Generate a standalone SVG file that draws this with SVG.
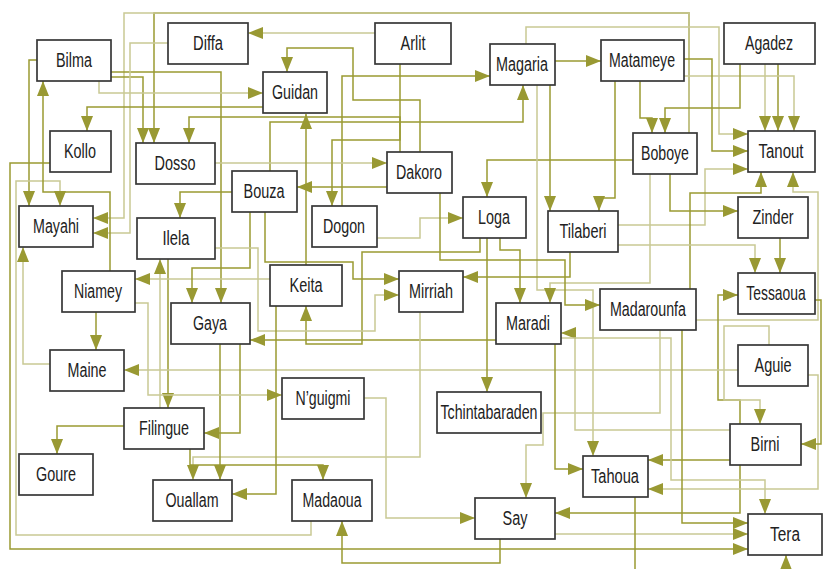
<svg xmlns="http://www.w3.org/2000/svg" width="823" height="569" viewBox="0 0 823 569">
<style>
.bg{fill:#ffffff}
.n rect{fill:#ffffff;stroke:#383838;stroke-width:1.7}
.n text{font-family:"Liberation Sans",Arial,sans-serif;font-size:20px;fill:#222;text-anchor:middle}
.e path{fill:none;stroke-width:1.5;marker-end:url(#ah)}
.e .d{stroke:#9a9a32}
.e .l{stroke:#c9c994}
</style>
<defs>
<marker id="ah" markerUnits="userSpaceOnUse" markerWidth="16" markerHeight="12" refX="15" refY="6" orient="auto"><path d="M0,0 L15,6 L0,12 z" fill="#999933"/></marker>
</defs>
<rect class="bg" x="0" y="0" width="823" height="569"/>
<g id="connectors" class="e">
<path class="l" d="M375,33 H248"/>
<path class="d" d="M689,133 V13 H154 V143"/>
<path class="l" d="M689,133 V13 H124 V218 H93"/>
<path class="d" d="M111,77 H143 V143"/>
<path class="d" d="M111,72 H221 V303"/>
<path class="l" d="M99,81 V93 H263"/>
<path class="l" d="M168,43 H130 V233 H93"/>
<path class="d" d="M420,152 V100 H353 V48 H287 V72"/>
<path class="d" d="M342,206 V76 H490"/>
<path class="d" d="M555,61 H601"/>
<path class="d" d="M270,171 V122 H523 V85"/>
<path class="l" d="M765,64 V131"/>
<path class="d" d="M778,64 V131"/>
<path class="l" d="M684,76 H794 V131"/>
<path class="l" d="M526,44 V27 H719 V134 H748"/>
<path class="d" d="M684,59 H712 V151 H748"/>
<path class="l" d="M618,225 H705 V169 H748"/>
<path class="d" d="M690,289 V193 H761 V172"/>
<path class="l" d="M696,320 H818 V192 H793 V172"/>
<path class="d" d="M640,81 V118 H652 V133"/>
<path class="d" d="M740,64 V108 H665 V133"/>
<path class="d" d="M263,107 H87 V131"/>
<path class="d" d="M400,152 V117 H189 V143"/>
<path class="d" d="M37,60 H29 V206"/>
<path class="l" d="M311,521 V535 H16 V181 H60 V206"/>
<path class="d" d="M110,271 V192 H43 V81"/>
<path class="d" d="M50,163 H10 V549 H748"/>
<path class="l" d="M215,163 H387"/>
<path class="d" d="M387,187 H297"/>
<path class="d" d="M306,265 V114"/>
<path class="d" d="M480,238 V252 H362 V344 H306 V306"/>
<path class="d" d="M400,64 V140 H332 V206"/>
<path class="d" d="M633,160 H487 V197"/>
<path class="l" d="M377,238 H420 V218 H463"/>
<path class="d" d="M550,85 V211"/>
<path class="l" d="M537,85 V290 H593 V456"/>
<path class="d" d="M615,81 V198 H599 V211"/>
<path class="d" d="M670,174 V211 H738"/>
<path class="l" d="M618,245 H755 V273"/>
<path class="d" d="M780,238 V273"/>
<path class="d" d="M740,424 V400 H718 V295 H738"/>
<path class="d" d="M232,192 H180 V218"/>
<path class="l" d="M160,408 V259"/>
<path class="d" d="M168,259 V408"/>
<path class="l" d="M270,279 H135"/>
<path class="d" d="M250,212 V268 H192 V303"/>
<path class="d" d="M496,340 H250"/>
<path class="d" d="M96,312 V350"/>
<path class="l" d="M738,370 H124"/>
<path class="l" d="M50,364 H23 V247"/>
<path class="d" d="M265,212 V262 H353 V279 H399"/>
<path class="l" d="M215,248 H258 V331 H375 V295 H399"/>
<path class="d" d="M570,252 V277 H463"/>
<path class="d" d="M500,238 V250 H520 V303"/>
<path class="l" d="M650,174 V283 H550 V303"/>
<path class="d" d="M487,238 V392"/>
<path class="l" d="M730,430 H575 V333 H561"/>
<path class="d" d="M440,193 V260 H565 V305 H600"/>
<path class="d" d="M124,426 H57 V454"/>
<path class="d" d="M240,344 V433 H204"/>
<path class="l" d="M420,312 V457 H193 V480"/>
<path class="d" d="M220,344 V480"/>
<path class="d" d="M276,306 V494 H232"/>
<path class="d" d="M190,449 V465 H323 V480"/>
<path class="d" d="M500,539 V563 H342 V521"/>
<path class="l" d="M660,330 V413 H543 V445 H526 V498"/>
<path class="l" d="M364,398 H386 V518 H475"/>
<path class="d" d="M740,465 V513 H555"/>
<path class="d" d="M555,344 V469 H583"/>
<path class="d" d="M730,460 H648"/>
<path class="l" d="M808,375 H818 V489 H648"/>
<path class="d" d="M815,300 H821 V444 H801"/>
<path class="l" d="M561,338 H671 V480 H765 V514"/>
<path class="d" d="M682,330 V523 H748"/>
<path class="l" d="M555,534 H748"/>
<path class="d" d="M635,497 V580 H786 V555"/>
<path class="l" d="M135,303 H148 V395 H282"/>
<path class="l" d="M769,345 V326 H724 V400 H760 V424"/>
</g>
<g id="Bilma" class="n"><rect x="37" y="40" width="74" height="41"/><text x="74" y="67" textLength="36" lengthAdjust="spacingAndGlyphs">Bilma</text></g>
<g id="Diffa" class="n"><rect x="168" y="23" width="80" height="41"/><text x="208" y="50" textLength="30" lengthAdjust="spacingAndGlyphs">Diffa</text></g>
<g id="Arlit" class="n"><rect x="375" y="23" width="76" height="41"/><text x="413" y="50" textLength="25" lengthAdjust="spacingAndGlyphs">Arlit</text></g>
<g id="Magaria" class="n"><rect x="490" y="44" width="65" height="41"/><text x="522" y="71" textLength="52" lengthAdjust="spacingAndGlyphs">Magaria</text></g>
<g id="Matameye" class="n"><rect x="601" y="40" width="83" height="41"/><text x="642" y="67" textLength="66" lengthAdjust="spacingAndGlyphs">Matameye</text></g>
<g id="Agadez" class="n"><rect x="724" y="23" width="91" height="41"/><text x="769" y="50" textLength="48" lengthAdjust="spacingAndGlyphs">Agadez</text></g>
<g id="Guidan" class="n"><rect x="263" y="72" width="64" height="41"/><text x="295" y="99" textLength="46" lengthAdjust="spacingAndGlyphs">Guidan</text></g>
<g id="Kollo" class="n"><rect x="50" y="131" width="61" height="41"/><text x="80" y="158" textLength="32" lengthAdjust="spacingAndGlyphs">Kollo</text></g>
<g id="Dosso" class="n"><rect x="136" y="143" width="79" height="41"/><text x="175" y="170" textLength="41" lengthAdjust="spacingAndGlyphs">Dosso</text></g>
<g id="Dakoro" class="n"><rect x="387" y="152" width="65" height="41"/><text x="419" y="179" textLength="46" lengthAdjust="spacingAndGlyphs">Dakoro</text></g>
<g id="Boboye" class="n"><rect x="633" y="133" width="64" height="41"/><text x="665" y="160" textLength="48" lengthAdjust="spacingAndGlyphs">Boboye</text></g>
<g id="Tanout" class="n"><rect x="748" y="131" width="67" height="41"/><text x="781" y="158" textLength="45" lengthAdjust="spacingAndGlyphs">Tanout</text></g>
<g id="Bouza" class="n"><rect x="232" y="171" width="65" height="41"/><text x="264" y="198" textLength="41" lengthAdjust="spacingAndGlyphs">Bouza</text></g>
<g id="Mayahi" class="n"><rect x="19" y="206" width="74" height="41"/><text x="56" y="233" textLength="46" lengthAdjust="spacingAndGlyphs">Mayahi</text></g>
<g id="Dogon" class="n"><rect x="312" y="206" width="65" height="41"/><text x="344" y="233" textLength="42" lengthAdjust="spacingAndGlyphs">Dogon</text></g>
<g id="Loga" class="n"><rect x="463" y="197" width="63" height="41"/><text x="494" y="224" textLength="32" lengthAdjust="spacingAndGlyphs">Loga</text></g>
<g id="Tilaberi" class="n"><rect x="548" y="211" width="70" height="41"/><text x="583" y="238" textLength="47" lengthAdjust="spacingAndGlyphs">Tilaberi</text></g>
<g id="Zinder" class="n"><rect x="738" y="197" width="70" height="41"/><text x="773" y="224" textLength="41" lengthAdjust="spacingAndGlyphs">Zinder</text></g>
<g id="Ilela" class="n"><rect x="137" y="218" width="78" height="41"/><text x="176" y="245" textLength="27" lengthAdjust="spacingAndGlyphs">Ilela</text></g>
<g id="Niamey" class="n"><rect x="62" y="271" width="73" height="41"/><text x="98" y="298" textLength="48" lengthAdjust="spacingAndGlyphs">Niamey</text></g>
<g id="Keita" class="n"><rect x="270" y="265" width="72" height="41"/><text x="306" y="292" textLength="33" lengthAdjust="spacingAndGlyphs">Keita</text></g>
<g id="Mirriah" class="n"><rect x="399" y="271" width="64" height="41"/><text x="431" y="298" textLength="44" lengthAdjust="spacingAndGlyphs">Mirriah</text></g>
<g id="Tessaoua" class="n"><rect x="738" y="273" width="77" height="41"/><text transform="translate(776,300) scale(0.695,1)" x="0" y="0">Tessaoua</text></g>
<g id="Madarounfa" class="n"><rect x="600" y="289" width="96" height="41"/><text x="648" y="316" textLength="76" lengthAdjust="spacingAndGlyphs">Madarounfa</text></g>
<g id="Gaya" class="n"><rect x="171" y="303" width="79" height="41"/><text x="210" y="330" textLength="34" lengthAdjust="spacingAndGlyphs">Gaya</text></g>
<g id="Maradi" class="n"><rect x="496" y="303" width="65" height="41"/><text x="528" y="330" textLength="44" lengthAdjust="spacingAndGlyphs">Maradi</text></g>
<g id="Maine" class="n"><rect x="50" y="350" width="74" height="41"/><text x="87" y="377" textLength="39" lengthAdjust="spacingAndGlyphs">Maine</text></g>
<g id="Aguie" class="n"><rect x="738" y="345" width="70" height="41"/><text x="773" y="372" textLength="37" lengthAdjust="spacingAndGlyphs">Aguie</text></g>
<g id="Nguigmi" class="n"><rect x="282" y="378" width="82" height="41"/><text x="323" y="405" textLength="55" lengthAdjust="spacingAndGlyphs">N’guigmi</text></g>
<g id="Tchintabaraden" class="n"><rect x="437" y="392" width="104" height="41"/><text x="489" y="419" textLength="97" lengthAdjust="spacingAndGlyphs">Tchintabaraden</text></g>
<g id="Filingue" class="n"><rect x="124" y="408" width="80" height="41"/><text x="164" y="435" textLength="50" lengthAdjust="spacingAndGlyphs">Filingue</text></g>
<g id="Birni" class="n"><rect x="730" y="424" width="71" height="41"/><text x="765" y="451" textLength="29" lengthAdjust="spacingAndGlyphs">Birni</text></g>
<g id="Goure" class="n"><rect x="19" y="454" width="74" height="41"/><text x="56" y="481" textLength="40" lengthAdjust="spacingAndGlyphs">Goure</text></g>
<g id="Tahoua" class="n"><rect x="583" y="456" width="65" height="41"/><text x="615" y="483" textLength="48" lengthAdjust="spacingAndGlyphs">Tahoua</text></g>
<g id="Ouallam" class="n"><rect x="153" y="480" width="79" height="41"/><text x="192" y="507" textLength="53" lengthAdjust="spacingAndGlyphs">Ouallam</text></g>
<g id="Madaoua" class="n"><rect x="292" y="480" width="80" height="41"/><text x="332" y="507" textLength="59" lengthAdjust="spacingAndGlyphs">Madaoua</text></g>
<g id="Say" class="n"><rect x="475" y="498" width="80" height="41"/><text x="515" y="525" textLength="25" lengthAdjust="spacingAndGlyphs">Say</text></g>
<g id="Tera" class="n"><rect x="748" y="514" width="74" height="41"/><text x="785" y="541" textLength="30" lengthAdjust="spacingAndGlyphs">Tera</text></g>
</svg>
